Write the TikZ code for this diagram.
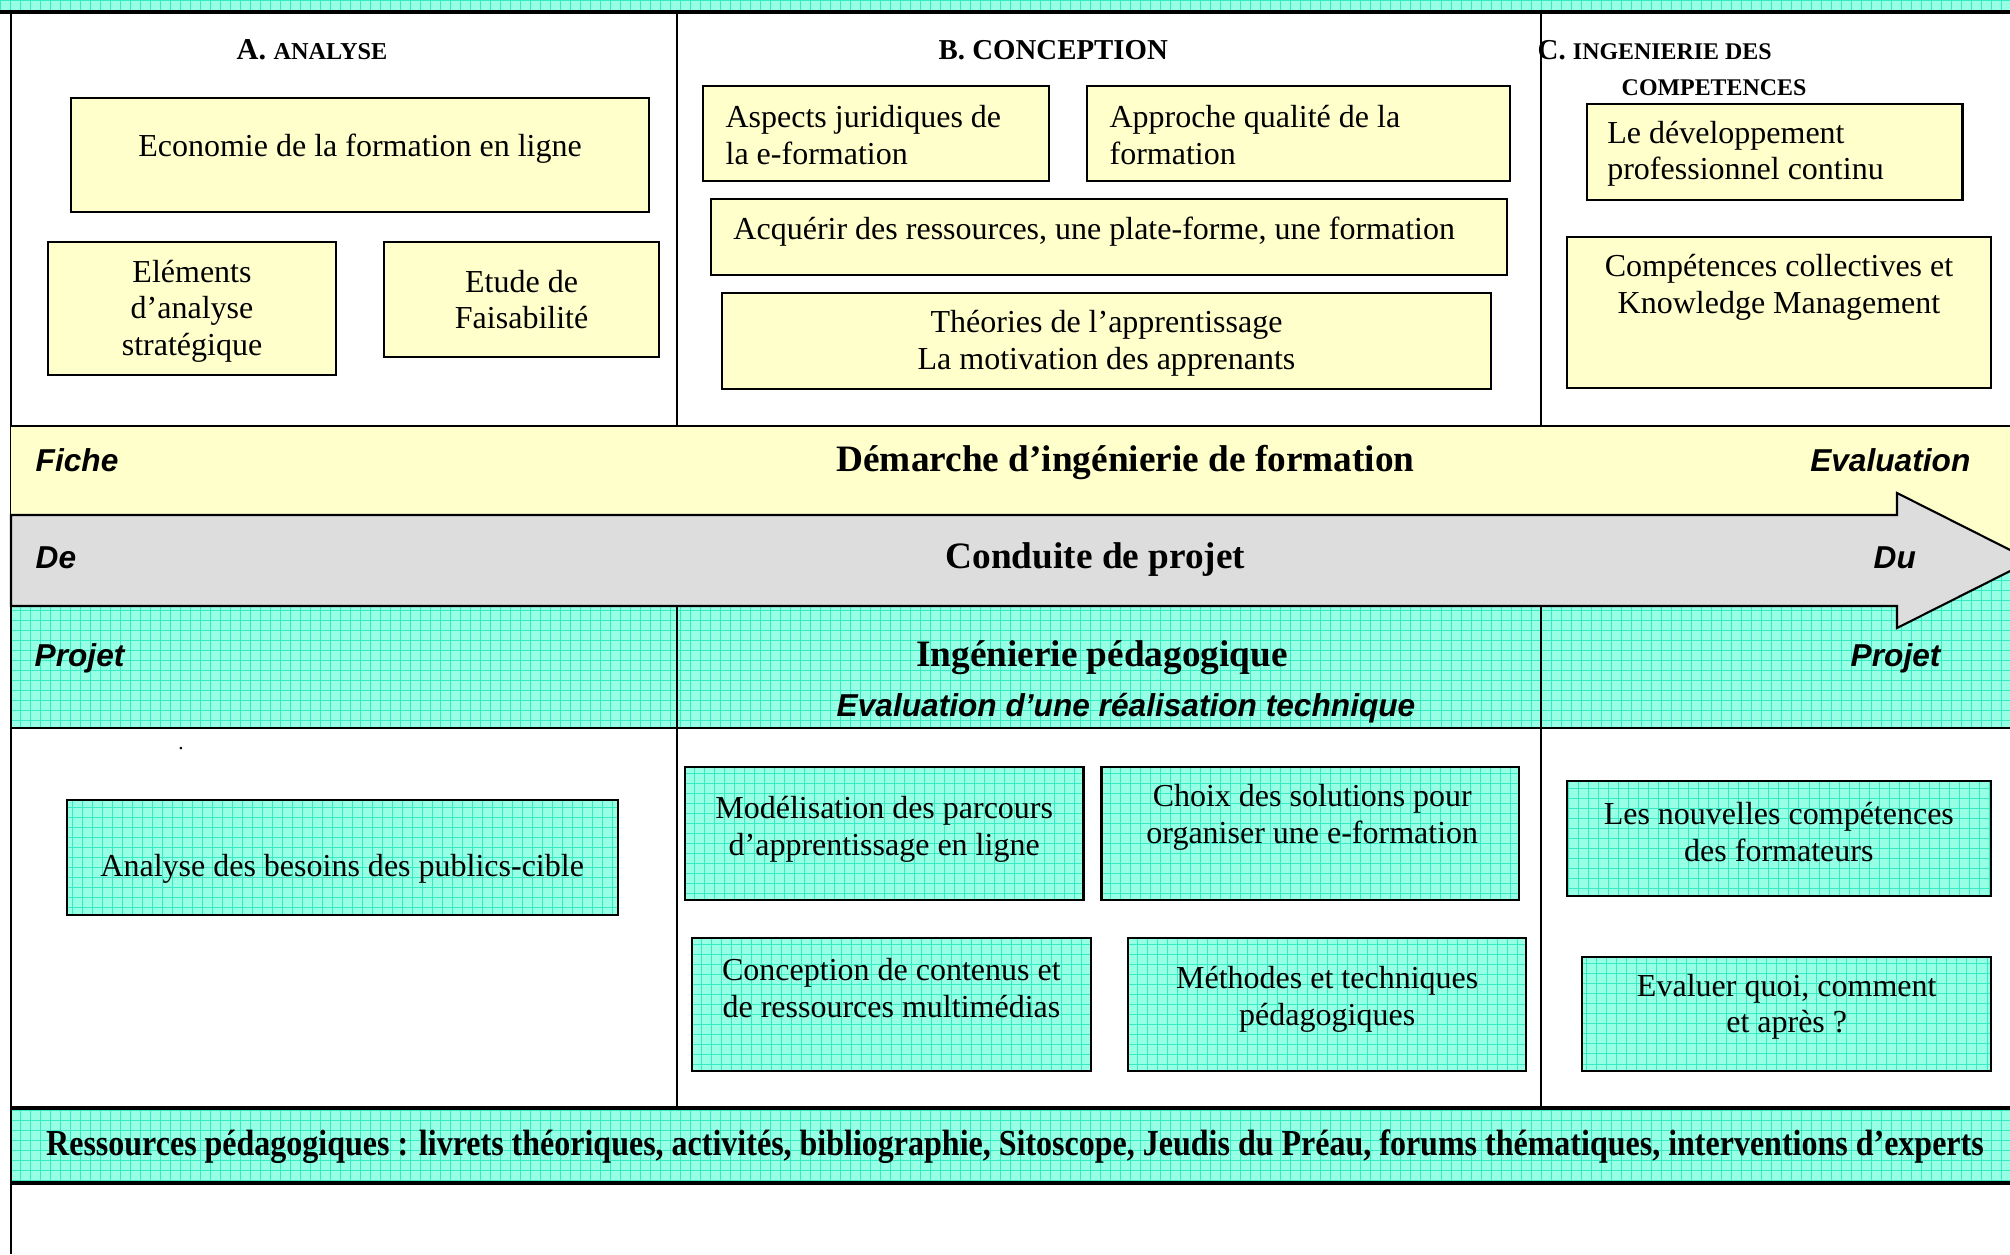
\documentclass[tikz,border=0pt]{standalone}
\usepackage{fontspec}
\setmainfont{Liberation Serif}
\newfontfamily\arialfont{Liberation Sans}
\newfontfamily\condfont{Liberation Serif}[FakeStretch=0.875]
\usetikzlibrary{positioning}

\definecolor{paleyellow}{RGB}{255,255,204}
\definecolor{arrowgray}{RGB}{221,221,221}
\definecolor{aquabg}{RGB}{150,255,228}
\definecolor{aquagrid}{RGB}{55,236,196}

\begin{document}
\begin{tikzpicture}[x=0.01cm, y=-0.01cm,
	ybox/.style={rectangle, draw, line width=0.6pt, fill=paleyellow,
		inner sep=0pt, outer sep=0pt},
	gridfill/.style={fill=aquabg, path picture={\draw[aquagrid, line width=0.2pt]
		(path picture bounding box.south west) grid[step=1mm] (path picture bounding box.north east);}},
	cbox/.style={rectangle, draw, line width=0.6pt, gridfill,
		inner sep=0pt, outer sep=0pt},
	txt/.style={font=\fontsize{9.1}{10.45}\selectfont, align=center, inner sep=0pt},
	ltxt/.style={txt, align=left},
	head/.style={font=\bfseries, inner sep=0pt, anchor=base west},
	lab/.style={font=\arialfont\bfseries\itshape\fontsize{9}{11}\selectfont,
		inner sep=0pt, anchor=base west},
	band/.style={font=\bfseries\fontsize{10.6}{12}\selectfont, inner sep=0pt, anchor=base}
	]
	\useasboundingbox (0,0) rectangle (2010,1254);
	\clip (0,0) rectangle (2010,1254);
	\fill[white] (0,0) rectangle (2010,1254);

	% bands
	\path[gridfill] (0,0) rectangle (2010,12);
	\path[gridfill] (11,560.5) rectangle (2010,728);
	\path[gridfill] (11,1108) rectangle (2010,1183);
	\draw[line width=0.45pt] (677,12) -- (677,1108) (1541,12) -- (1541,1108);
	\draw[line width=0.6pt] (11,12) -- (11,1254);
	\fill[paleyellow] (11,426) rectangle (2010,560.5);
	\draw[line width=0.5pt] (11,426) -- (2010,426);
	\draw[line width=0.6pt, fill=arrowgray] (11,515) -- (1897,515) -- (1897,493) -- (2031,560.5)
		-- (1897,628) -- (1897,606) -- (11,606) -- cycle;
	\draw[line width=0.9pt] (0,12) -- (2010,12);
	\draw[line width=0.6pt] (11,728) -- (2010,728);
	\draw[line width=0.9pt] (11,1108) -- (2010,1108) (11,1183) -- (2010,1183);

	% headings
	\node[head] (headA) at (236,59) {\fontsize{8.6}{10}\selectfont A. \fontsize{6.9}{8}\selectfont ANALYSE};
	\node[head] (headB) at (938,59) {\fontsize{8.2}{10}\selectfont B. CONCEPTION};
	\node[head] (headC) at (1537,59) {\fontsize{8.2}{10}\selectfont C. \fontsize{6.8}{8}\selectfont INGENIERIE DES};
	\node[head] (headC2) at (1621,95) {\fontsize{6.8}{8}\selectfont COMPETENCES};

	% A. analyse
	\node[ybox, minimum width=5.77cm, minimum height=1.134cm] (eco) at (360,155) {};
	\node[txt] (eco-t) at ([yshift=0.06cm]eco.center) {Economie de la formation en ligne};
	\node[ybox, minimum width=2.883cm, minimum height=1.327cm] (elem) at (192,308.7) {};
	\node[txt] (elem-t) at ([yshift=-0.026cm]elem.center) {Eléments\\d’analyse\\stratégique};
	\node[ybox, minimum width=2.754cm, minimum height=1.144cm] (etude) at (521.6,299.5) {};
	\node[txt] (etude-t) at (etude.center) {Etude de\\Faisabilité};

	% B. conception
	\node[ybox, minimum width=3.46cm, minimum height=0.95cm] (aspects) at (876,133.2) {};
	\node[ltxt, right=0.22cm of aspects.west, yshift=-0.018cm] (aspects-t) {Aspects juridiques de\\la e-formation};
	\node[ybox, minimum width=4.23cm, minimum height=0.95cm] (approche) at (1298.5,133.2) {};
	\node[ltxt, right=0.22cm of approche.west, yshift=-0.018cm] (approche-t) {Approche qualité de la\\formation};
	\node[ybox, minimum width=7.96cm, minimum height=0.763cm] (acquerir) at (1109,237.2) {};
	\node[ltxt, right=0.22cm of acquerir.west, yshift=0.057cm] (acquerir-t) {Acquérir des ressources, une plate-forme, une formation};
	\node[ybox, minimum width=7.69cm, minimum height=0.957cm] (theories) at (1106.5,341.2) {};
	\node[txt] (theories-t) at ([yshift=-0.018cm]theories.center) {Théories de l’apprentissage\\La motivation des apprenants};

	% C. competences
	\node[ybox, minimum width=3.756cm, minimum height=0.957cm] (devpro) at (1774.5,152.2) {};
	\node[ltxt, right=0.2cm of devpro.west, yshift=-0.016cm] (devpro-t) {Le développement\\professionnel continu};
	\node[ybox, minimum width=4.234cm, minimum height=1.51cm] (collect) at (1779,312.8) {};
	\node[txt] (collect-t) at ([yshift=0.253cm]collect.center) {Compétences collectives et\\Knowledge Management};

	% band labels
	\node[lab] (fiche) at (35,471.7) {Fiche};
	\node[lab, anchor=base east] (evalR) at (1971,471.7) {Evaluation};
	\node[band] (demarche) at (1125.5,471.7) {Démarche d’ingénierie de formation};
	\node[lab] (de) at (35,568.3) {De};
	\node[lab] (du) at (1873,568.3) {Du};
	\node[band] (conduite) at (1095.5,568.3) {Conduite de projet};
	\node[lab] (projetL) at (34,666.7) {Projet};
	\node[lab] (projetR) at (1850,666.7) {Projet};
	\node[band] (ingped) at (1102,666.7) {Ingénierie pédagogique};
	\node[lab, anchor=base] (evaltech) at (1126,716) {Evaluation d’une réalisation technique};

	% lower boxes
	\node[txt, anchor=base, font=\fontsize{6}{7}\selectfont] (dot) at (181,749) {.};
	\node[cbox, minimum width=5.504cm, minimum height=1.15cm] (besoins) at (342.2,857.5) {};
	\node[txt] (besoins-t) at ([yshift=-0.117cm]besoins.center) {Analyse des besoins des publics-cible};
	\node[cbox, minimum width=3.983cm, minimum height=1.327cm] (parcours) at (884.2,833.7) {};
	\node[txt] (parcours-t) at ([yshift=0.045cm]parcours.center) {Modélisation des parcours\\d’apprentissage en ligne};
	\node[cbox, minimum width=4.173cm, minimum height=1.327cm] (choix) at (1310.3,833.7) {};
	\node[txt] (choix-t) at ([xshift=0.02cm, yshift=0.167cm]choix.center) {Choix des solutions pour\\organiser une e-formation};
	\node[cbox, minimum width=3.983cm, minimum height=1.333cm] (contenus) at (891.4,1004.3) {};
	\node[txt] (contenus-t) at ([yshift=0.165cm]contenus.center) {Conception de contenus et\\de ressources multimédias};
	\node[cbox, minimum width=3.977cm, minimum height=1.333cm] (methodes) at (1327.2,1004.3) {};
	\node[txt] (methodes-t) at ([yshift=0.048cm]methodes.center) {Méthodes et techniques\\pédagogiques};
	\node[cbox, minimum width=4.243cm, minimum height=1.147cm] (nouvcomp) at (1778.8,838.3) {};
	\node[txt] (nouvcomp-t) at ([yshift=0.066cm]nouvcomp.center) {Les nouvelles compétences\\des formateurs};
	\node[cbox, minimum width=4.087cm, minimum height=1.143cm] (evaluer) at (1786.7,1013.8) {};
	\node[txt] (evaluer-t) at ([yshift=0.071cm]evaluer.center) {Evaluer quoi, comment\\et après ?};

	% resources
	\node[font=\condfont\bfseries\fontsize{10.4}{12}\selectfont, inner sep=0pt, anchor=base] (ressources) at (1015,1155)
		{Ressources pédagogiques : livrets théoriques, activités, bibliographie, Sitoscope, Jeudis du Préau, forums thématiques, interventions d’experts};
\end{tikzpicture}
\end{document}
